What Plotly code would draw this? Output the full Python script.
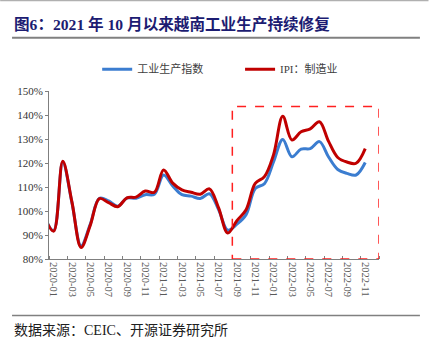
import plotly.graph_objects as go

# Monthly series (% of same month a year earlier)
months = [
    "2019-12",
    "2020-01", "2020-02", "2020-03", "2020-04", "2020-05", "2020-06",
    "2020-07", "2020-08", "2020-09", "2020-10", "2020-11", "2020-12",
    "2021-01", "2021-02", "2021-03", "2021-04", "2021-05", "2021-06",
    "2021-07", "2021-08", "2021-09", "2021-10", "2021-11", "2021-12",
    "2022-01", "2022-02", "2022-03", "2022-04", "2022-05", "2022-06",
    "2022-07", "2022-08", "2022-09", "2022-10", "2022-11",
]
ipi_total = [
    97.5,
    91.8, 120.3, 103.5, 85.5, 94.5, 105.3,
    104.2, 102.0, 105.4, 105.3, 106.8, 107.0,
    115.0, 110.4, 106.8, 106.2, 105.2, 107.2,
    100.6, 92.0, 94.5, 98.5, 109.4, 111.4,
    120.5, 129.8, 122.6, 125.8, 126.0, 128.9,
    122.5, 117.3, 115.7, 115.0, 120.2,
]
ipi_manuf = [
    97.5,
    91.6, 120.7, 103.8, 84.8, 94.0, 105.2,
    103.5, 101.8, 105.5, 105.8, 108.3, 107.8,
    117.1, 111.6, 108.8, 107.8, 107.0, 109.2,
    101.3, 90.8, 96.0, 100.5, 111.5, 114.3,
    123.5, 139.5, 129.6, 133.0, 134.2, 137.2,
    129.0, 122.3, 120.4, 119.9, 126.0,
]
label_months = [
    "2020-01", "2020-03", "2020-05", "2020-07", "2020-09", "2020-11",
    "2021-01", "2021-03", "2021-05", "2021-07", "2021-09", "2021-11",
    "2022-01", "2022-03", "2022-05", "2022-07", "2022-09", "2022-11",
]
y_ticks = [80, 90, 100, 110, 120, 130, 140, 150]
highlight_from = "2021-09"


def month_pos(s):
    """Months elapsed since 2020-01."""
    y, m = s.split("-")
    return (int(y) - 2020) * 12 + int(m) - 1


x = [month_pos(m) for m in months]
label_pos = [month_pos(m) for m in label_months]
x_lo, x_hi = -0.5, month_pos("2022-12") + 0.5

SERIF = "Liberation Serif, Noto Sans CJK SC, serif"
LEGEND_FONT = dict(family=SERIF, size=11, color="#404040")

fig = go.Figure()
fig.add_trace(go.Scatter(
    x=x, y=ipi_total, mode="lines", name="工业生产指数", legend="legend",
    line=dict(color="#3b7dd0", width=3, shape="spline", smoothing=1.0),
))
fig.add_trace(go.Scatter(
    x=x, y=ipi_manuf, mode="lines", name="IPI：制造业", legend="legend2",
    line=dict(color="#c00000", width=3, shape="spline", smoothing=1.0),
))

# dashed box around the recovery period
fig.add_shape(
    type="rect", xref="x", yref="y",
    x0=month_pos(highlight_from) - 0.5, x1=x_hi, y0=80, y1=143.5,
    line=dict(color="#ff2020", width=1.5, dash="dash"),
    fillcolor="rgba(0,0,0,0)", layer="above",
)

# page rules
fig.add_shape(type="line", xref="paper", yref="paper",
              x0=-0.148, x1=1.15, y0=1.539, y1=1.539,
              line=dict(color="#b0b0b0", width=1.5))
fig.add_shape(type="line", xref="paper", yref="paper",
              x0=-0.112, x1=1.124, y0=1.317, y1=1.317,
              line=dict(color="#808080", width=2))
fig.add_shape(type="line", xref="paper", yref="paper",
              x0=-0.112, x1=1.124, y0=-0.337, y1=-0.337,
              line=dict(color="#808080", width=1.5))

fig.add_annotation(
    text="<b>图6：2021 年 10 月以来越南工业生产持续修复</b>",
    xref="paper", yref="paper", x=-0.112, y=1.399,
    xanchor="left", yanchor="middle", showarrow=False,
    font=dict(family=SERIF, size=15.6, color="#1c1c72"),
)
fig.add_annotation(
    text="数据来源：CEIC、开源证券研究所",
    xref="paper", yref="paper", x=-0.112, y=-0.423,
    xanchor="left", yanchor="middle", showarrow=False,
    font=dict(family=SERIF, size=14, color="#202020"),
)

legend_common = dict(
    orientation="h", yanchor="middle", y=1.13, xanchor="left",
    font=LEGEND_FONT, itemwidth=30, bgcolor="rgba(0,0,0,0)",
)

fig.update_layout(
    width=429, height=342,
    margin=dict(l=49, r=50, t=91, b=83),
    paper_bgcolor="white", plot_bgcolor="white",
    showlegend=True,
    legend=dict(x=0.146, **legend_common),
    legend2=dict(x=0.579, **legend_common),
    xaxis=dict(
        range=[x_lo, x_hi], tickmode="array", tickvals=label_pos,
        ticktext=label_months, tickangle=90, ticks="",
        tickfont=dict(family=SERIF, size=10.5, color="#595959"),
        showline=True, linecolor="#7f7f7f", linewidth=1,
        showgrid=False, zeroline=False,
        minor=dict(
            tickmode="array",
            tickvals=[p - 0.5 for p in label_pos] + [x_hi],
            ticks="inside", ticklen=3, tickcolor="#7f7f7f", showgrid=False,
        ),
    ),
    yaxis=dict(
        range=[80, 150], tickmode="array", tickvals=y_ticks,
        ticktext=[f"{v}%" for v in y_ticks],
        ticks="outside", ticklen=3, tickcolor="#7f7f7f",
        tickfont=dict(family=SERIF, size=11, color="#333333"),
        showline=True, linecolor="#7f7f7f", linewidth=1,
        showgrid=False, zeroline=False,
    ),
)

fig.write_html("out.html")
